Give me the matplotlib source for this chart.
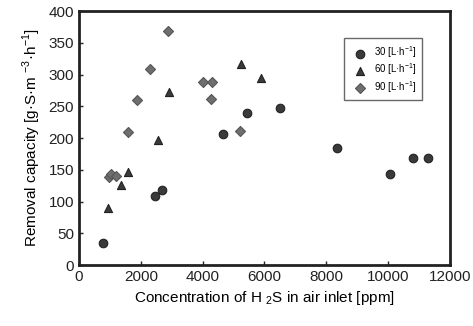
"""
Removal capacity vs H2S inlet concentration
"""
import matplotlib.pyplot as plt

plt.rcParams['font.family'] = ['Liberation Sans', 'DejaVu Sans']
plt.rcParams['mathtext.fontset'] = 'custom'
plt.rcParams['mathtext.rm'] = 'Liberation Sans'

# 30 L/h
x30 = [780, 2450, 2680, 4650, 5450, 6500, 8350, 10050, 10800, 11300]
y30 = [35, 108, 118, 207, 240, 247, 185, 143, 169, 169]
# 60 L/h
x60 = [950, 1350, 1580, 2570, 2920, 5250, 5900]
y60 = [90, 126, 147, 197, 272, 317, 294]
# 90 L/h
x90 = [970, 1050, 1190, 1575, 1870, 2300, 2890, 4020, 4320, 4280, 5220]
y90 = [138, 143, 141, 209, 260, 308, 369, 288, 288, 261, 211]

fig = plt.figure(figsize=(4.73, 3.26), dpi=100)
ax = fig.add_axes([0.167, 0.187, 0.784, 0.779])

ax.scatter(x30, y30, marker='o', s=38, c='#3a3a3a', edgecolors='#222222', lw=0.8,
           label='30 [L·h$^{\\mathregular{-1}}$]', zorder=3)
ax.scatter(x60, y60, marker='^', s=34, c='#3a3a3a', edgecolors='#222222', lw=0.8,
           label='60 [L·h$^{\\mathregular{-1}}$]', zorder=3)
ax.scatter(x90, y90, marker='D', s=26, c='#6e6e6e', edgecolors='#555555', lw=0.8,
           label='90 [L·h$^{\\mathregular{-1}}$]', zorder=3)

ax.set_xlim(0, 12000)
ax.set_ylim(0, 400)
ax.set_xticks(range(0, 12001, 2000))
ax.set_yticks(range(0, 401, 50))
ax.tick_params(direction='in', length=3, width=1, labelsize=11, colors='#222222')
for sp in ax.spines.values():
    sp.set_linewidth(2)
    sp.set_color('#222222')

ax.set_xlabel('Concentration of H $_{\\mathregular{2}}$S in air inlet [ppm]', fontsize=11)
ax.set_ylabel('Removal capacity [g·S·m $^{\\mathregular{-3}}$·h$^{\\mathregular{-1}}$]', fontsize=11)

leg = ax.legend(loc='upper right', bbox_to_anchor=(0.93, 0.9), fontsize=7,
                frameon=True, fancybox=False, edgecolor='#444444',
                handletextpad=0.4, borderpad=0.6, labelspacing=0.15,
                borderaxespad=0.2)
leg.get_frame().set_linewidth(1)

plt.savefig('out.png', dpi=100)
